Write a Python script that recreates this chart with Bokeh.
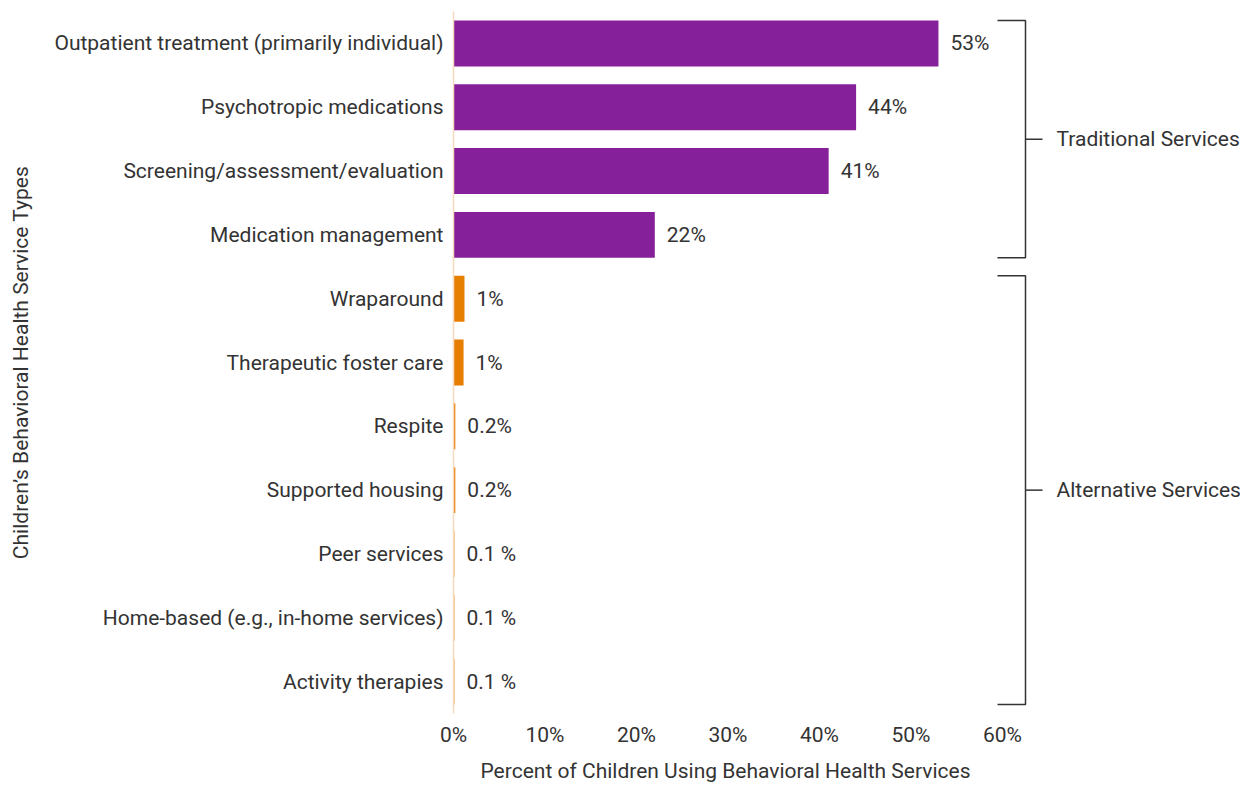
from bokeh.plotting import figure
from bokeh.models import Range1d, FixedTicker, PrintfTickFormatter, Title, ColumnDataSource
from bokeh.embed import file_html
from bokeh.resources import INLINE
from bokeh.core.properties import value

categories = [
    "Outpatient treatment (primarily individual)",
    "Psychotropic medications",
    "Screening/assessment/evaluation",
    "Medication management",
    "Wraparound",
    "Therapeutic foster care",
    "Respite",
    "Supported housing",
    "Peer services",
    "Home-based (e.g., in-home services)",
    "Activity therapies",
]
percent = [53, 44, 41, 22, 1.2, 1.1, 0.2, 0.2, 0.1, 0.1, 0.1]
value_labels = ["53%", "44%", "41%", "22%", "1%", "1%", "0.2%", "0.2%", "0.1 %", "0.1 %", "0.1 %"]
service_group = [
    "Traditional Services", "Traditional Services", "Traditional Services", "Traditional Services",
    "Alternative Services", "Alternative Services", "Alternative Services", "Alternative Services",
    "Alternative Services", "Alternative Services", "Alternative Services",
]
group_names = ["Traditional Services", "Alternative Services"]
group_colors = ["#861f9a", "#e67e00"]
x_ticks = [0, 10, 20, 30, 40, 50, 60]

FONT = "Roboto"
TEXT = "#333333"
FS = "21px"

n = len(categories)
pos = list(range(n))
color_of = dict(zip(group_names, group_colors))
colors = [color_of[g] for g in service_group]

frame_left = 453
frame_w = 1240 - frame_left
x_max_axis = x_ticks[-1]
px_per_unit = 549 / x_max_axis
x_end = frame_w / px_per_unit

p = figure(width=1240, height=789, output_backend="svg", toolbar_location=None,
           x_range=Range1d(0, x_end), y_range=Range1d(n - 0.5, -0.5),
           min_border_left=frame_left, min_border_right=0, min_border_top=11,
           min_border_bottom=76)
p.outline_line_color = None
p.grid.grid_line_color = None
p.background_fill_color = "white"
p.border_fill_color = "white"

src = ColumnDataSource(dict(y=pos, right=percent, color=colors, lab=value_labels))
p.hbar(y="y", left=0, right="right", height=0.72, fill_color="color", line_color=None, source=src)
p.text(x="right", y="y", text="lab", source=src, x_offset=12, text_align="left",
       text_baseline="middle", text_font=value(FONT), text_font_size=FS, text_color=TEXT)

# x axis
xa = p.xaxis[0]
xa.ticker = FixedTicker(ticks=x_ticks)
xa.formatter = PrintfTickFormatter(format="%d%%")
xa.axis_line_color = None
xa.major_tick_line_color = None
xa.minor_tick_line_color = None
xa.major_label_text_font = FONT
xa.major_label_text_font_size = FS
xa.major_label_text_color = TEXT
xa.major_label_standoff = 3

# y axis
ya = p.yaxis[0]
ya.ticker = FixedTicker(ticks=pos)
ya.major_label_overrides = {i: c for i, c in enumerate(categories)}
ya.axis_line_color = "#f7d9bd"
ya.axis_line_width = 1.5
ya.major_tick_line_color = None
ya.minor_tick_line_color = None
ya.major_label_text_font = FONT
ya.major_label_text_font_size = FS
ya.major_label_text_color = TEXT
ya.major_label_standoff = 4
ya.axis_label = "Children\u2019s Behavioral Health Service Types"
ya.axis_label_text_font = FONT
ya.axis_label_text_font_size = FS
ya.axis_label_text_font_style = "normal"
ya.axis_label_text_color = TEXT
ya.axis_label_standoff = 18

# x axis title (placed under the 0-60% tick span)
p.add_layout(Title(text="Percent of Children Using Behavioral Health Services",
                   align="left", offset=27,
                   text_font=FONT, text_font_size=FS, text_font_style="normal",
                   text_color=TEXT, standoff=14), "below")

# group brackets
bx0 = x_max_axis - 5 / px_per_unit
bx1 = x_max_axis + 23 / px_per_unit
bx2 = bx1 + 17 / px_per_unit
btx = bx1 + 31 / px_per_unit
half = 0.36
for g in group_names:
    idx = [i for i, s in enumerate(service_group) if s == g]
    top = idx[0] - half
    bot = idx[-1] + half
    mid = (top + bot) / 2
    p.line(x=[bx0, bx1, bx1, bx0], y=[top, top, bot, bot], line_color=TEXT, line_width=1.5)
    p.segment(x0=[bx1], y0=[mid], x1=[bx2], y1=[mid], line_color=TEXT, line_width=1.5)
    p.text(x=[btx], y=[mid], text=[g], text_align="left", text_baseline="middle",
           text_font=value(FONT), text_font_size=FS, text_color=TEXT)

open("out.html", "w").write(file_html(p, INLINE))
